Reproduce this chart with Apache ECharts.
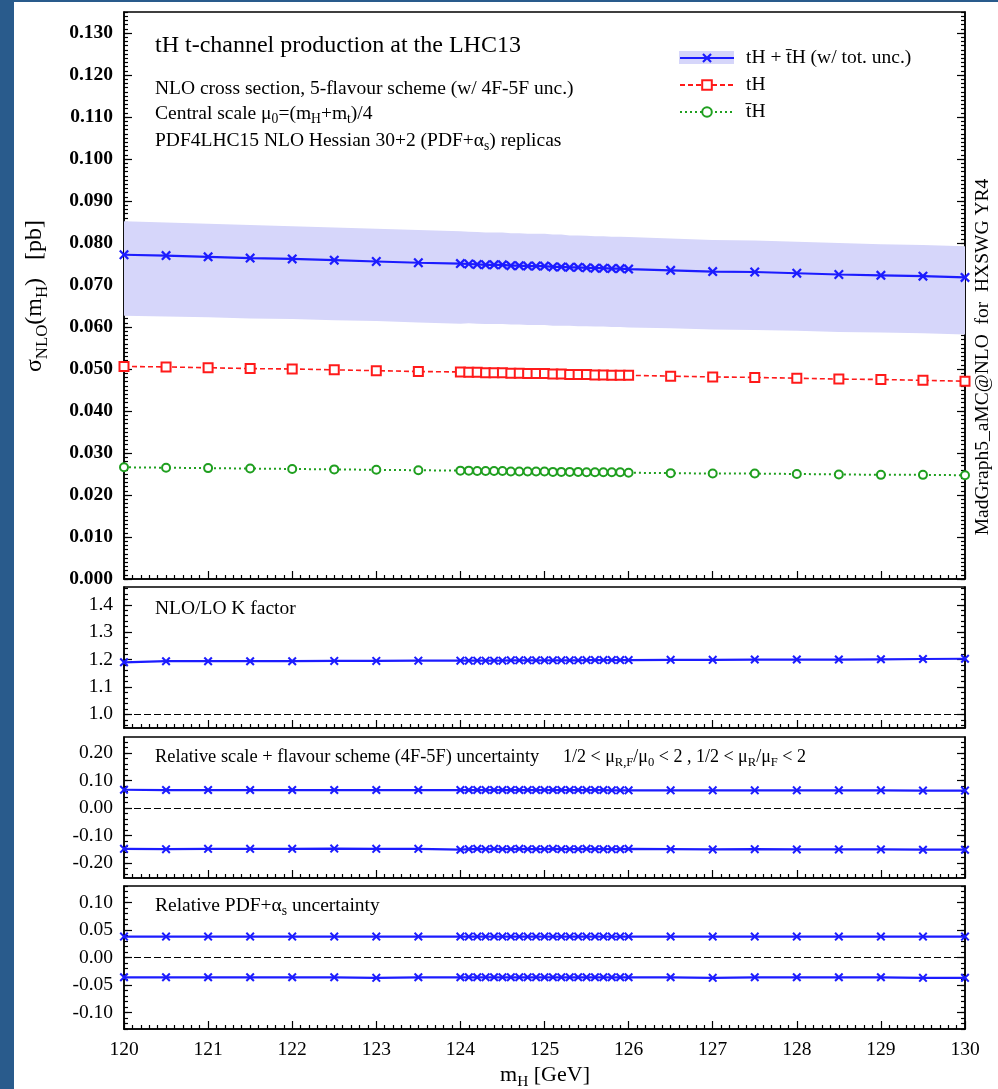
<!DOCTYPE html>
<html>
<head>
<meta charset="utf-8">
<script src="https://cdn.jsdelivr.net/npm/echarts@6/dist/echarts.min.js"></script>
<style>
  html, body { margin: 0; padding: 0; background: #fff; }
  #chart { width: 998px; height: 1089px; }
</style>
</head>
<body>
<div id="chart"></div>
<script>
// Higgs mass points (GeV)
const mH = [120, 120.5, 121, 121.5, 122, 122.5, 123, 123.5,
  124, 124.1, 124.2, 124.3, 124.4, 124.5, 124.6, 124.7, 124.8, 124.9, 125,
  125.1, 125.2, 125.3, 125.4, 125.5, 125.6, 125.7, 125.8, 125.9, 126,
  126.5, 127, 127.5, 128, 128.5, 129, 129.5, 130];

// tH + tbarH NLO cross section (pb) and total uncertainty envelope
const sigmaTot = [0.0772, 0.0770, 0.0767, 0.0764, 0.0762, 0.0759, 0.0756, 0.0753,
  0.0751, 0.0750, 0.0749, 0.0748, 0.0748, 0.0748, 0.0746, 0.0746, 0.0745, 0.0745, 0.0745,
  0.0743, 0.0743, 0.0742, 0.0742, 0.0741, 0.0740, 0.0740, 0.0739, 0.0739, 0.0738,
  0.0735, 0.0732, 0.0731, 0.0728, 0.0725, 0.0723, 0.0721, 0.0718];
const bandUp = [0.0852, 0.0849, 0.0846, 0.0843, 0.0840, 0.0837, 0.0834, 0.0831,
  0.0828, 0.0827, 0.0826, 0.0825, 0.0825, 0.0825, 0.0823, 0.0823, 0.0822, 0.0822, 0.0822,
  0.0820, 0.0820, 0.0818, 0.0818, 0.0817, 0.0816, 0.0816, 0.0815, 0.0815, 0.0814,
  0.0811, 0.0807, 0.0806, 0.0803, 0.0800, 0.0797, 0.0795, 0.0792];
const bandDn = [0.0627, 0.0625, 0.0623, 0.0620, 0.0619, 0.0616, 0.0614, 0.0611,
  0.0608, 0.0609, 0.0608, 0.0607, 0.0607, 0.0607, 0.0606, 0.0606, 0.0605, 0.0605, 0.0605,
  0.0603, 0.0603, 0.0603, 0.0602, 0.0602, 0.0601, 0.0601, 0.0600, 0.0600, 0.0599,
  0.0597, 0.0594, 0.0593, 0.0591, 0.0588, 0.0587, 0.0585, 0.0582];

// tH and tbarH separately (pb)
const sigmaT = [0.0506, 0.0505, 0.0503, 0.0501, 0.0500, 0.0498, 0.0496, 0.0494,
  0.0493, 0.0492, 0.0492, 0.0491, 0.0491, 0.0491, 0.0490, 0.0490, 0.0489, 0.0489, 0.0489,
  0.0488, 0.0488, 0.0487, 0.0487, 0.0487, 0.0486, 0.0486, 0.0485, 0.0485, 0.0485,
  0.0483, 0.0481, 0.0480, 0.0478, 0.0476, 0.0475, 0.0473, 0.0471];
const sigmaTbar = [0.0266, 0.0265, 0.0264, 0.0263, 0.0262, 0.0261, 0.0260, 0.0259,
  0.0258, 0.0258, 0.0257, 0.0257, 0.0257, 0.0257, 0.0256, 0.0256, 0.0256, 0.0256, 0.0256,
  0.0255, 0.0255, 0.0255, 0.0255, 0.0254, 0.0254, 0.0254, 0.0254, 0.0254, 0.0253,
  0.0252, 0.0251, 0.0251, 0.0250, 0.0249, 0.0248, 0.0248, 0.0247];

// NLO/LO K factor
const kFactor = [1.190, 1.194, 1.194, 1.194, 1.194, 1.195, 1.195, 1.196,
  1.196, 1.196, 1.196, 1.196, 1.196, 1.196, 1.197, 1.197, 1.197, 1.197, 1.197,
  1.197, 1.197, 1.197, 1.197, 1.198, 1.198, 1.198, 1.198, 1.198, 1.198,
  1.199, 1.199, 1.200, 1.200, 1.200, 1.201, 1.202, 1.203];

// relative scale + flavour-scheme uncertainty
const scaleUp = [0.066, 0.065, 0.065, 0.065, 0.065, 0.065, 0.065, 0.065,
  0.065, 0.065, 0.065, 0.065, 0.065, 0.065, 0.065, 0.065, 0.065, 0.065, 0.065,
  0.065, 0.065, 0.065, 0.065, 0.065, 0.065, 0.065, 0.064, 0.064, 0.064,
  0.064, 0.064, 0.064, 0.064, 0.064, 0.064, 0.063, 0.063];
const scaleDn = [-0.149, -0.150, -0.149, -0.149, -0.149, -0.148, -0.149, -0.149,
  -0.152, -0.150, -0.149, -0.150, -0.149, -0.150, -0.150, -0.149, -0.150, -0.150, -0.150,
  -0.149, -0.150, -0.150, -0.150, -0.149, -0.150, -0.150, -0.150, -0.150, -0.149,
  -0.150, -0.151, -0.150, -0.151, -0.151, -0.151, -0.152, -0.152];

// relative PDF + alpha_s uncertainty
const pdfUp = [0.038, 0.038, 0.038, 0.038, 0.038, 0.038, 0.038, 0.038,
  0.038, 0.038, 0.038, 0.038, 0.038, 0.038, 0.038, 0.038, 0.038, 0.038, 0.038,
  0.038, 0.038, 0.038, 0.038, 0.038, 0.038, 0.038, 0.038, 0.038, 0.038,
  0.038, 0.038, 0.038, 0.038, 0.038, 0.038, 0.038, 0.038];
const pdfDn = [-0.036, -0.036, -0.036, -0.036, -0.036, -0.036, -0.037, -0.036,
  -0.036, -0.036, -0.036, -0.036, -0.036, -0.036, -0.036, -0.036, -0.036, -0.036, -0.036,
  -0.036, -0.036, -0.036, -0.036, -0.036, -0.036, -0.036, -0.036, -0.036, -0.036,
  -0.036, -0.037, -0.036, -0.036, -0.036, -0.036, -0.037, -0.037];

// tick labels
const xTicks = [120, 121, 122, 123, 124, 125, 126, 127, 128, 129, 130];
const yTicksMain = [0.000, 0.010, 0.020, 0.030, 0.040, 0.050, 0.060, 0.070, 0.080, 0.090, 0.100, 0.110, 0.120, 0.130];
const yTicksK = [1.0, 1.1, 1.2, 1.3, 1.4];
const yTicksScale = [-0.20, -0.10, 0.00, 0.10, 0.20];
const yTicksPdf = [-0.10, -0.05, 0.00, 0.05, 0.10];

const NAME_TOT = 'tH + t\u0304H (w/ tot. unc.)';
const NAME_T = 'tH';
const NAME_TBAR = 't\u0304H';

const FONT = '"Liberation Serif", "Times New Roman", serif';
const BLUE = '#1c1cff';
const RED = '#ff1a1a';
const GREEN = '#1f9f1f';
const BAND = '#d6d6fa';
const FRAME = '#000';
const XSYM = 'path://M0,1.6L1.6,0L5,3.4L8.4,0L10,1.6L6.6,5L10,8.4L8.4,10L5,6.6L1.6,10L0,8.4L3.4,5Z';

// panel layout and axis ranges
const panels = [
  { top: 12, height: 567, min: 0, max: 0.135, ticks: yTicksMain, minor: 0.001, digits: 3, bold: true },
  { top: 587, height: 141, min: 0.95, max: 1.465, ticks: yTicksK, minor: 0.02, digits: 1, bold: false },
  { top: 737, height: 141, min: -0.255, max: 0.258, ticks: yTicksScale, minor: 0.02, digits: 2, bold: false },
  { top: 886, height: 143, min: -0.13, max: 0.13, ticks: yTicksPdf, minor: 0.01, digits: 2, bold: false }
];

const tickLine = { color: FRAME, width: 1.2 };

function minorValues(p) {
  const out = [];
  const k0 = Math.ceil(p.min / p.minor - 1e-9);
  for (let k = k0; k * p.minor <= p.max + 1e-9; k++) out.push(+(k * p.minor).toFixed(6));
  return out;
}

const grids = [], xAxes = [], yAxes = [];
panels.forEach((p, g) => {
  grids.push({ left: 124, top: p.top, width: 841, height: p.height, show: true,
    borderColor: FRAME, borderWidth: 1.5, backgroundColor: 'transparent', containLabel: false });
  xAxes.push({
    type: 'value', gridIndex: g, min: xTicks[0], max: xTicks[xTicks.length - 1], interval: 1,
    splitLine: { show: false },
    axisLine: { show: true, onZero: false, lineStyle: { color: FRAME, width: 1.5 } },
    axisTick: { show: true, inside: true, length: 8, lineStyle: tickLine },
    minorTick: { show: true, splitNumber: 10, length: 4, lineStyle: tickLine },
    axisLabel: { show: g === panels.length - 1, margin: 11, color: '#000', fontFamily: FONT, fontSize: 19.5,
      formatter: v => String(Math.round(v)) }
  });
  const minors = minorValues(p);
  const base = { type: 'value', gridIndex: g, min: p.min, max: p.max, splitLine: { show: false } };
  yAxes.push(
    Object.assign({}, base, {
      position: 'left',
      axisLine: { show: true, onZero: false, lineStyle: { color: FRAME, width: 1.5 } },
      axisTick: { show: true, inside: true, length: 8, customValues: p.ticks, lineStyle: tickLine },
      axisLabel: { show: true, customValues: p.ticks, margin: 11, color: '#000', fontFamily: FONT,
        fontSize: 19.5, fontWeight: p.bold ? 'bold' : 'normal',
        formatter: v => (Math.abs(v) < 1e-12 ? 0 : v).toFixed(p.digits) }
    }),
    Object.assign({}, base, {
      position: 'left', axisLine: { show: false },
      axisTick: { show: true, inside: true, length: 4, customValues: minors, lineStyle: tickLine },
      axisLabel: { show: false }
    }),
    Object.assign({}, base, {
      position: 'right',
      axisLine: { show: true, onZero: false, lineStyle: { color: FRAME, width: 1.5 } },
      axisTick: { show: true, inside: true, length: 8, customValues: p.ticks, lineStyle: tickLine },
      axisLabel: { show: false }
    }),
    Object.assign({}, base, {
      position: 'right', axisLine: { show: false },
      axisTick: { show: true, inside: true, length: 4, customValues: minors, lineStyle: tickLine },
      axisLabel: { show: false }
    })
  );
});

const pts = arr => mH.map((x, i) => [x, arr[i]]);
const dashedRef = v => ({
  silent: true, symbol: 'none', animation: false,
  label: { show: false },
  lineStyle: { color: '#000', width: 1, type: [7, 3] },
  data: [{ yAxis: v }]
});
function blueLine(g, arr, extra) {
  return Object.assign({
    type: 'line', xAxisIndex: g, yAxisIndex: 4 * g, data: pts(arr), clip: false,
    symbol: XSYM, symbolSize: 9, showAllSymbol: true,
    lineStyle: { color: BLUE, width: 2.2 }, itemStyle: { color: BLUE }, z: 3, silent: true
  }, extra || {});
}

const series = [
  // total uncertainty envelope: one polygon, upper edge forward then lower edge back
  { name: 'envelope', type: 'custom', xAxisIndex: 0, yAxisIndex: 0, silent: true, z: 1,
    data: mH.map((x, i) => [x, bandDn[i], bandUp[i]]),
    encode: { x: 0, y: [1, 2] },
    renderItem: (params, api) => {
      if (params.dataIndex !== 0) return { type: 'group', children: [] };
      const upper = mH.map((x, i) => api.coord([x, bandUp[i]]));
      const lower = mH.map((x, i) => api.coord([x, bandDn[i]])).reverse();
      return { type: 'polygon', shape: { points: upper.concat(lower) }, style: { fill: BAND } };
    } },
  blueLine(0, sigmaTot, { name: NAME_TOT, symbolSize: 10 }),
  { name: NAME_T, type: 'line', xAxisIndex: 0, yAxisIndex: 0, data: pts(sigmaT), clip: false,
    symbol: 'rect', symbolSize: 9, showAllSymbol: true,
    lineStyle: { color: RED, width: 1.6, type: [5, 3] },
    itemStyle: { color: '#fff', borderColor: RED, borderWidth: 2 }, z: 3, silent: true },
  { name: NAME_TBAR, type: 'line', xAxisIndex: 0, yAxisIndex: 0, data: pts(sigmaTbar), clip: false,
    symbol: 'circle', symbolSize: 8, showAllSymbol: true,
    lineStyle: { color: GREEN, width: 2, type: [2, 3] },
    itemStyle: { color: '#fff', borderColor: GREEN, borderWidth: 2 }, z: 3, silent: true },
  blueLine(1, kFactor, { name: 'K', markLine: dashedRef(1.0) }),
  blueLine(2, scaleUp, { name: 'scale+', markLine: dashedRef(0) }),
  blueLine(2, scaleDn, { name: 'scale-' }),
  blueLine(3, pdfUp, { name: 'pdf+', markLine: dashedRef(0) }),
  blueLine(3, pdfDn, { name: 'pdf-' })
];

// text runs with subscripts, laid out left to right
const measureCtx = document.createElement('canvas').getContext('2d');
function textRun(parts, x, y, size, opt) {
  opt = opt || {};
  const kids = [];
  let cx = 0;
  parts.forEach(([t, kind]) => {
    const s = kind === 'sub' ? size * 0.7 : size;
    const dy = kind === 'sub' ? size * 0.3 : 0;
    const font = (opt.weight || 'normal') + ' ' + s + 'px ' + FONT;
    measureCtx.font = font;
    kids.push({ type: 'text', x: cx, y: dy, silent: true,
      style: { text: t, font: font, fill: '#000', textAlign: 'left', align: 'left',
        textVerticalAlign: 'middle', verticalAlign: 'middle' } });
    cx += measureCtx.measureText(t).width;
  });
  let gx = x, gy = y;
  if (opt.center) gx = x - cx / 2;
  if (opt.rotate) { gx = x; gy = y + cx / 2; }
  return { type: 'group', x: gx, y: gy, rotation: opt.rotate ? Math.PI / 2 : 0, silent: true, children: kids, z: 10 };
}

const graphics = [
  { type: 'rect', shape: { x: 0, y: 0, width: 14, height: 1089 }, style: { fill: '#295b8c' }, silent: true, z: 20 },
  { type: 'rect', shape: { x: 0, y: 0, width: 998, height: 2 }, style: { fill: '#295b8c' }, silent: true, z: 20 },
  { type: 'rect', shape: { x: 679, y: 51, width: 55, height: 13 }, style: { fill: BAND }, silent: true, z: 1 },
  textRun([['tH t-channel production at the LHC13']], 155, 46, 24),
  textRun([['NLO cross section, 5-flavour scheme (w/ 4F-5F unc.)']], 155, 89, 19.5),
  textRun([['Central scale \u03bc'], ['0', 'sub'], ['=(m'], ['H', 'sub'], ['+m'], ['t', 'sub'], [')/4']], 155, 114, 19.5),
  textRun([['PDF4LHC15 NLO Hessian 30+2 (PDF+\u03b1'], ['s', 'sub'], [') replicas']], 155, 141, 19.5),
  textRun([['NLO/LO K factor']], 155, 609, 19.5),
  textRun([['Relative scale + flavour scheme (4F-5F) uncertainty']], 155, 757, 18.4),
  textRun([['1/2 < \u03bc'], ['R,F', 'sub'], ['/\u03bc'], ['0', 'sub'], [' < 2 , 1/2 < \u03bc'], ['R', 'sub'],
    ['/\u03bc'], ['F', 'sub'], [' < 2']], 563, 757, 18),
  textRun([['Relative PDF+\u03b1'], ['s', 'sub'], [' uncertainty']], 155, 906, 19.5),
  textRun([['m'], ['H', 'sub'], [' [GeV]']], 545, 1075, 22, { center: true }),
  textRun([['\u03c3'], ['NLO', 'sub'], ['(m'], ['H', 'sub'], [')   [pb]']], 35, 296, 24, { rotate: true }),
  textRun([['MadGraph5_aMC@NLO  for  HXSWG YR4']], 983, 357, 19.5, { rotate: true })
];

const chart = echarts.init(document.getElementById('chart'), null, { renderer: 'canvas' });
chart.setOption({
  animation: false,
  backgroundColor: '#fff',
  grid: grids,
  xAxis: xAxes,
  yAxis: yAxes,
  legend: {
    data: [NAME_TOT, NAME_T, NAME_TBAR],
    orient: 'vertical', left: 679, top: 48, padding: 0,
    itemWidth: 54, itemHeight: 12, itemGap: 7, z: 5,
    selectedMode: false,
    textStyle: { fontFamily: FONT, fontSize: 19.5, color: '#000', lineHeight: 20, padding: [0, 0, 0, 7] }
  },
  series: series,
  graphic: graphics
});
</script>
</body>
</html>
